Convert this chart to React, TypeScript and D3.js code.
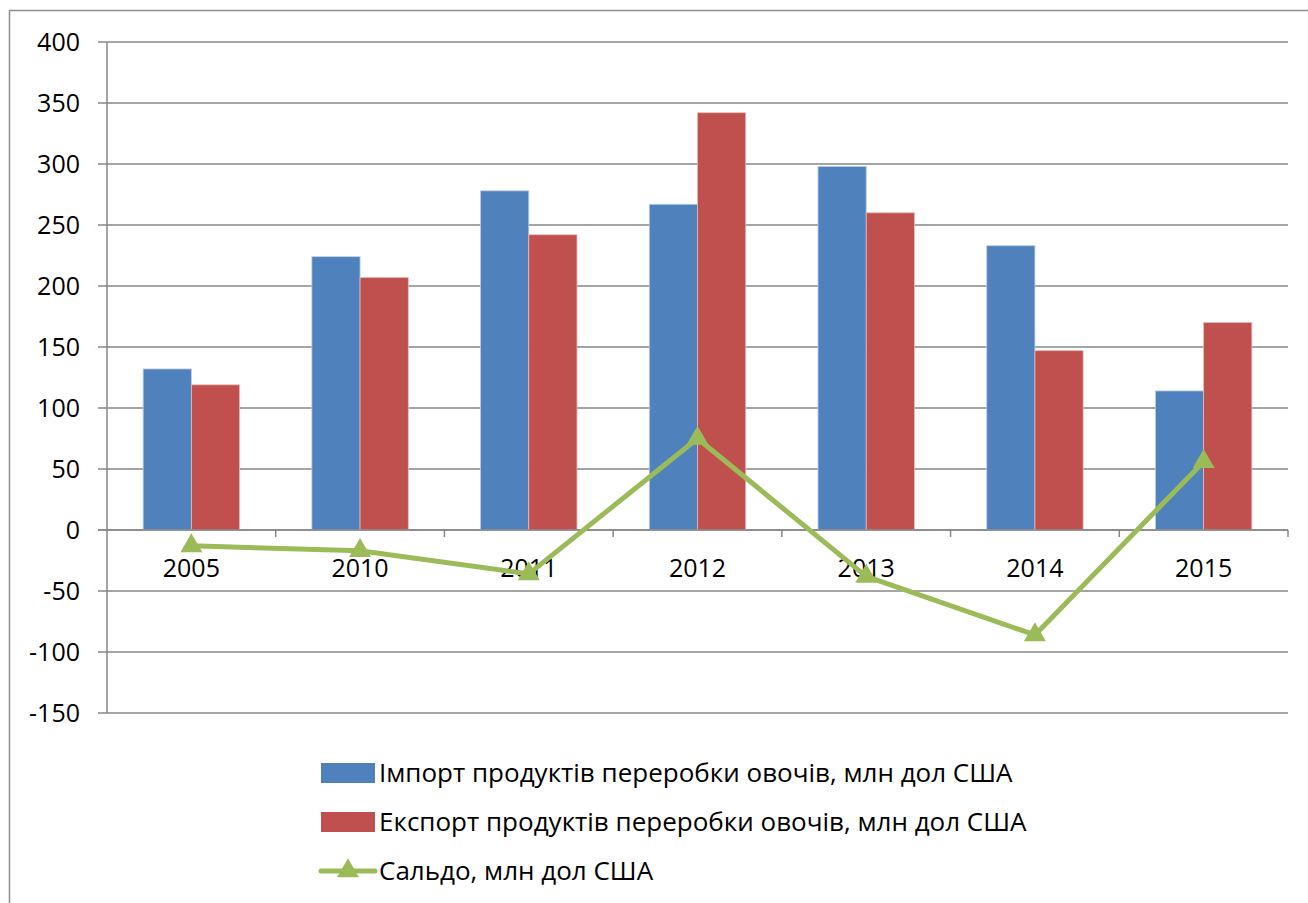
import React from "react";
import * as d3 from "d3";

const categories = ["2005", "2010", "2011", "2012", "2013", "2014", "2015"];
const importValues = [132, 224, 278, 267, 298, 233, 114];
const exportValues = [119, 207, 242, 342, 260, 147, 170];
const saldoValues = [-13, -17, -36, 75, -38, -86, 56];
const yTicks = [-150, -100, -50, 0, 50, 100, 150, 200, 250, 300, 350, 400];
const seriesNames = [
  "Імпорт продуктів переробки овочів, млн дол США",
  "Експорт продуктів переробки овочів, млн дол США",
  "Сальдо, млн дол США",
];
const colors = { imp: "#4F81BD", exp: "#C0504D", saldo: "#9BBB59" };

const W = 1308;
const H = 903;
const plot = { left: 107, right: 1288, top: 42, bottom: 713 };
const FONT = "'Open Sans', 'Liberation Sans', sans-serif";
const GRID = "#878787";

export default function App() {
  const x = d3.scaleBand<string>().domain(categories).range([plot.left, plot.right]).padding(0);
  const y = d3.scaleLinear().domain([-150, 400]).range([plot.bottom, plot.top]);
  const bw = x.bandwidth();
  const barW = bw / 3.5;
  const inner = d3.scaleBand<string>().domain(["imp", "exp"]).range([-barW, barW]).padding(0);
  const y0 = y(0);

  const lineGen = d3
    .line<number>()
    .x((_, i) => (x(categories[i]) as number) + bw / 2)
    .y((d) => y(d));

  const tri = d3.symbol().type(d3.symbolTriangle).size(210)();

  const legendY = [773, 822, 871];

  return (
    <svg width={W} height={H} style={{ position: "absolute", left: 0, top: 0, background: "#fff" }} fontFamily={FONT}>
      <rect x={9.5} y={10.5} width={W + 20} height={H + 20} fill="#fff" stroke="#8e8e8e" strokeWidth={1.5} />
      {/* gridlines */}
      {yTicks.map((t) => (
        <line key={t} x1={plot.left - 9} x2={plot.right} y1={y(t)} y2={y(t)} stroke={GRID} strokeWidth={1.5} />
      ))}
      {/* y labels */}
      {yTicks.map((t) => (
        <text key={"l" + t} x={80} y={y(t)} dy="0.35em" textAnchor="end" fontSize={25} fill="#000">
          {t}
        </text>
      ))}
      {/* bars */}
      {categories.map((c, i) => {
        const cx = (x(c) as number) + bw / 2;
        return (
          <g key={c}>
            <rect
              x={cx + (inner("imp") as number)}
              y={y(importValues[i])}
              width={barW}
              height={y0 - y(importValues[i])}
              fill={colors.imp}
              stroke="#b9cde5"
              strokeWidth={0.8}
            />
            <rect
              x={cx + (inner("exp") as number)}
              y={y(exportValues[i])}
              width={barW}
              height={y0 - y(exportValues[i])}
              fill={colors.exp}
              stroke="#e6b9b8"
              strokeWidth={0.8}
            />
          </g>
        );
      })}
      {/* y axis */}
      <line x1={plot.left} x2={plot.left} y1={plot.top} y2={plot.bottom} stroke={GRID} strokeWidth={1.5} />
      {/* x axis */}
      <line x1={plot.left - 9} x2={plot.right} y1={y0} y2={y0} stroke={GRID} strokeWidth={1.5} />
      {categories.map((c) => (
        <line
          key={"t" + c}
          x1={(x(c) as number) + bw}
          x2={(x(c) as number) + bw}
          y1={y0}
          y2={y0 + 7}
          stroke={GRID}
          strokeWidth={1.5}
        />
      ))}
      {categories.map((c) => (
        <text key={"x" + c} x={(x(c) as number) + bw / 2} y={577} textAnchor="middle" fontSize={25} fill="#000">
          {c}
        </text>
      ))}
      {/* saldo line */}
      <path d={lineGen(saldoValues) || ""} fill="none" stroke={colors.saldo} strokeWidth={5} strokeLinejoin="round" />
      {saldoValues.map((v, i) => (
        <path
          key={"m" + i}
          d={tri || ""}
          transform={`translate(${(x(categories[i]) as number) + bw / 2},${y(v)})`}
          fill={colors.saldo}
        />
      ))}
      {/* legend */}
      <rect x={321} y={legendY[0] - 10} width={54} height={20} fill={colors.imp} />
      <rect x={321} y={legendY[1] - 10} width={54} height={20} fill={colors.exp} />
      <line x1={321} x2={375} y1={legendY[2]} y2={legendY[2]} stroke={colors.saldo} strokeWidth={5} strokeLinecap="round" />
      <path d={tri || ""} transform={`translate(348,${legendY[2]})`} fill={colors.saldo} />
      {seriesNames.map((n, i) => (
        <text key={n} x={379} y={legendY[i]} dy="0.35em" fontSize={26} fill="#000">
          {n}
        </text>
      ))}
    </svg>
  );
}
